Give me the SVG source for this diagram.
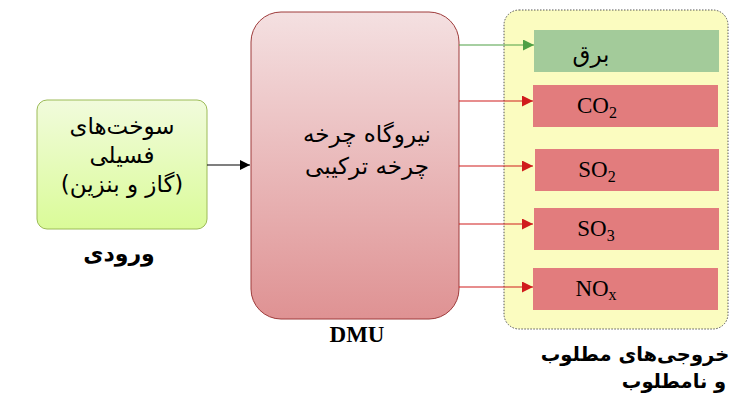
<svg xmlns="http://www.w3.org/2000/svg" width="730" height="394" viewBox="0 0 730 394">
<defs>
<linearGradient id="gIn" x1="0" y1="0" x2="0" y2="1"><stop offset="0" stop-color="#f1fbdc"/><stop offset="1" stop-color="#dafb98"/></linearGradient>
<linearGradient id="gDmu" x1="0" y1="0" x2="0" y2="1"><stop offset="0" stop-color="#f4e0e1"/><stop offset="1" stop-color="#df9293"/></linearGradient>
<marker id="mB" viewBox="0 0 10 10" refX="10" refY="5" markerWidth="10" markerHeight="10" markerUnits="userSpaceOnUse" orient="auto"><path d="M0,0 L10,5 L0,10 z" fill="#000"/></marker>
<marker id="mG" viewBox="0 0 10 10" refX="10" refY="5" markerWidth="11" markerHeight="11" markerUnits="userSpaceOnUse" orient="auto"><path d="M0,0 L10,5 L0,10 z" fill="#4fa045"/></marker>
<marker id="mR" viewBox="0 0 10 10" refX="10" refY="5" markerWidth="11" markerHeight="11" markerUnits="userSpaceOnUse" orient="auto"><path d="M0,0 L10,5 L0,10 z" fill="#d01c1c"/></marker>
</defs>
<style>
.fa{font-family:"DejaVu Sans",sans-serif;font-size:23px;fill:#000}
.fab{font-family:"DejaVu Sans",sans-serif;font-weight:bold;fill:#000}
.ser{font-family:"Liberation Serif",serif;font-size:23px;fill:#000}
.red{fill:#e27c7d}
.c{stroke-width:1.2;fill:none}
</style>
<g id="outputs-container">
<rect x="504" y="10" width="224" height="319" rx="15" fill="#fbfcc0" stroke="#555" stroke-width="1" stroke-dasharray="1.5,1.5"/>
</g>
<g id="input">
<rect x="37" y="100" width="170" height="129" rx="10" fill="url(#gIn)" stroke="#9cbb57" stroke-width="1"/>
<text class="fa" x="122" y="134" text-anchor="middle" direction="rtl">سوخت‌های</text>
<text class="fa" x="122" y="163" text-anchor="middle" direction="rtl">فسیلی</text>
<text class="fa" x="122" y="192" text-anchor="middle" direction="rtl">(گاز و بنزین)</text>
</g>
<g id="input-label"><text class="fab" font-size="22" x="119" y="261" text-anchor="middle" direction="rtl">ورودی</text></g>
<g id="dmu">
<rect x="251" y="12" width="208" height="307" rx="30" fill="url(#gDmu)" stroke="#9e3b3b" stroke-width="1"/>
<text class="fa" x="367" y="142" text-anchor="middle" direction="rtl">نیروگاه چرخه</text>
<text class="fa" x="367" y="174" text-anchor="middle" direction="rtl">چرخه ترکیبی</text>
</g>
<g id="dmu-label"><text class="ser" font-size="24" x="357" y="342" text-anchor="middle" font-weight="bold">DMU</text></g>
<g id="out-barq">
<rect x="534" y="30" width="185" height="42" fill="#a3cb9a"/>
<text class="fa" x="591" y="62" text-anchor="middle" direction="rtl">برق</text>
</g>
<g id="out-co2">
<rect class="red" x="533" y="85" width="185" height="42"/>
<text class="ser" x="597" y="113" text-anchor="middle">CO<tspan font-size="16" dy="5">2</tspan></text>
</g>
<g id="out-so2">
<rect class="red" x="535" y="149" width="184" height="42"/>
<text class="ser" x="597" y="177" text-anchor="middle">SO<tspan font-size="16" dy="5">2</tspan></text>
</g>
<g id="out-so3">
<rect class="red" x="534" y="208" width="185" height="42"/>
<text class="ser" x="596" y="236" text-anchor="middle">SO<tspan font-size="16" dy="5">3</tspan></text>
</g>
<g id="out-nox">
<rect class="red" x="533" y="268" width="185" height="42"/>
<text class="ser" x="596" y="296" text-anchor="middle">NO<tspan font-size="16" dy="4">x</tspan></text>
</g>
<g id="outputs-label">
<text class="fab" font-size="19.5" x="635" y="361" text-anchor="middle" direction="rtl">خروجی‌های مطلوب</text>
<text class="fab" font-size="19.5" x="674" y="388" text-anchor="middle" direction="rtl">و نامطلوب</text>
</g>
<g id="connectors">
<line class="c" x1="207" y1="165" x2="250" y2="165" stroke="#000" marker-end="url(#mB)"/>
<line class="c" x1="459" y1="45" x2="534" y2="45" stroke="#4fa045" marker-end="url(#mG)"/>
<line class="c" x1="459" y1="101" x2="533" y2="101" stroke="#d01c1c" marker-end="url(#mR)"/>
<line class="c" x1="459" y1="166" x2="533" y2="166" stroke="#d01c1c" marker-end="url(#mR)"/>
<line class="c" x1="459" y1="224" x2="533" y2="224" stroke="#d01c1c" marker-end="url(#mR)"/>
<line class="c" x1="459" y1="287" x2="533" y2="287" stroke="#d01c1c" marker-end="url(#mR)"/>
</g>
</svg>
